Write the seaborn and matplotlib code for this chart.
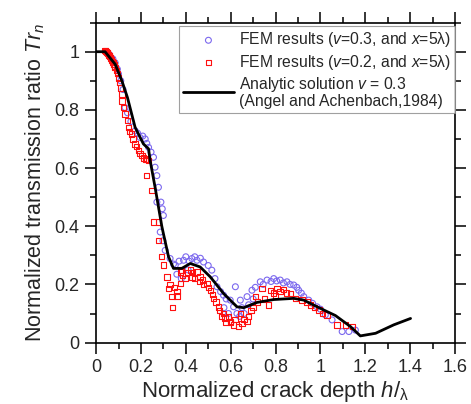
import numpy as np
import pandas as pd
import matplotlib
matplotlib.use("Agg")
import matplotlib.pyplot as plt
import seaborn as sns
from matplotlib.ticker import MultipleLocator

# ---------------- data ----------------
blue_x = [0.06, 0.075, 0.085, 0.095, 0.10, 0.11, 0.12, 0.129, 0.14, 0.155, 0.174, 0.185,
          0.196, 0.208, 0.219, 0.226, 0.234, 0.245, 0.256, 0.263, 0.271, 0.278, 0.271, 0.289,
          0.295, 0.30, 0.286, 0.298, 0.308, 0.33, 0.345, 0.353, 0.37, 0.39, 0.40, 0.415,
          0.427, 0.44, 0.45, 0.465, 0.479, 0.50, 0.516, 0.53, 0.539, 0.555, 0.568, 0.58,
          0.598, 0.613, 0.628, 0.621, 0.643, 0.65, 0.673, 0.695, 0.71, 0.732, 0.745, 0.762,
          0.78, 0.792, 0.805, 0.821, 0.835, 0.851, 0.865, 0.881, 0.895, 0.903, 0.915, 0.926,
          0.948, 0.965, 0.985, 1.00, 1.022, 1.052, 1.097, 1.127, 1.156,
          0.36, 0.38, 0.41, 0.57, 0.59, 0.64, 0.66, 0.68, 0.70]
blue_y = [0.99, 0.975, 0.962, 0.94, 0.923, 0.90, 0.87, 0.808, 0.79, 0.76, 0.728, 0.72,
          0.705, 0.71, 0.70, 0.685, 0.671, 0.655, 0.637, 0.603, 0.574, 0.534, 0.483, 0.483,
          0.46, 0.437, 0.38, 0.35, 0.317, 0.289, 0.27, 0.266, 0.28, 0.283, 0.295, 0.28,
          0.289, 0.295, 0.283, 0.29, 0.277, 0.265, 0.249, 0.22, 0.192, 0.175, 0.163, 0.15,
          0.146, 0.123, 0.10, 0.192, 0.146, 0.12, 0.158, 0.18, 0.19, 0.209, 0.20, 0.215,
          0.21, 0.22, 0.212, 0.215, 0.205, 0.209, 0.20, 0.198, 0.19, 0.18, 0.17, 0.158,
          0.146, 0.135, 0.123, 0.115, 0.095, 0.078, 0.038, 0.038, 0.043,
          0.235, 0.22, 0.25, 0.12, 0.10, 0.09, 0.10, 0.13, 0.15]

red_x = [0.040, 0.045, 0.05, 0.055, 0.06, 0.065, 0.07, 0.075, 0.08, 0.085, 0.09, 0.095,
         0.10, 0.105, 0.11, 0.115, 0.115, 0.122, 0.129, 0.14, 0.144, 0.15, 0.159, 0.165,
         0.174, 0.18, 0.189, 0.195, 0.204, 0.212, 0.22, 0.226, 0.235, 0.226, 0.249, 0.256,
         0.278, 0.278, 0.293, 0.30, 0.316, 0.323, 0.338, 0.341, 0.36, 0.375, 0.375, 0.385,
         0.397, 0.41, 0.427, 0.44, 0.45, 0.464, 0.475, 0.494, 0.509, 0.524, 0.535, 0.546,
         0.568, 0.575, 0.59, 0.60, 0.613, 0.635, 0.598, 0.643, 0.66, 0.673, 0.69, 0.71,
         0.74, 0.769, 0.777, 0.79, 0.807, 0.82, 0.836, 0.85, 0.866, 0.888, 0.918, 0.94,
         0.955, 0.975, 0.993, 1.01, 1.03, 1.074, 1.112, 1.142,
         0.33, 0.35, 0.36, 0.38, 0.42, 0.43, 0.46, 0.48, 0.50, 0.52, 0.55, 0.56, 0.58,
         0.62, 0.65, 0.68, 0.70, 0.72, 0.75, 0.80,
         0.043, 0.048, 0.052, 0.058, 0.063, 0.068, 0.072, 0.078, 0.083]
red_y = [1.005, 1.0, 0.995, 0.99, 0.985, 0.978, 0.97, 0.962, 0.955, 0.945, 0.935, 0.925,
         0.91, 0.895, 0.875, 0.855, 0.831, 0.808, 0.786, 0.763, 0.74, 0.725, 0.717, 0.70,
         0.683, 0.675, 0.66, 0.65, 0.643, 0.635, 0.63, 0.631, 0.625, 0.574, 0.523, 0.414,
         0.414, 0.352, 0.295, 0.267, 0.226, 0.186, 0.158, 0.121, 0.175, 0.203, 0.243, 0.23,
         0.22, 0.24, 0.226, 0.22, 0.243, 0.226, 0.215, 0.203, 0.18, 0.152, 0.14, 0.123,
         0.10, 0.085, 0.089, 0.07, 0.061, 0.055, 0.072, 0.10, 0.08, 0.072, 0.11, 0.158,
         0.186, 0.129, 0.18, 0.17, 0.186, 0.175, 0.183, 0.17, 0.169, 0.152, 0.146, 0.14,
         0.129, 0.12, 0.112, 0.10, 0.095, 0.061, 0.061, 0.055,
         0.20, 0.19, 0.16, 0.25, 0.25, 0.24, 0.21, 0.20, 0.19, 0.165, 0.11, 0.09, 0.07,
         0.08, 0.065, 0.09, 0.12, 0.14, 0.15, 0.16,
         1.003, 0.998, 0.993, 0.987, 0.981, 0.974, 0.966, 0.958, 0.95]

line_x = [0, 0.04, 0.085, 0.115, 0.14, 0.174, 0.211, 0.234, 0.241, 0.263, 0.293, 0.30,
          0.323, 0.345, 0.382, 0.42, 0.464, 0.509, 0.568, 0.628, 0.658, 0.717, 0.792, 0.881,
          0.926, 0.97, 1.015, 1.067, 1.134, 1.178, 1.246, 1.327, 1.402]
line_y = [1, 1, 0.957, 0.90, 0.842, 0.74, 0.683, 0.666, 0.626, 0.534, 0.40, 0.375,
          0.295, 0.255, 0.255, 0.272, 0.26, 0.226, 0.169, 0.123, 0.12, 0.138, 0.148, 0.152,
          0.146, 0.129, 0.112, 0.093, 0.055, 0.023, 0.032, 0.061, 0.083]

lab_blue = r"FEM results ($v$=0.3, and $x$=5λ)"
lab_red = r"FEM results ($v$=0.2, and $x$=5λ)"
lab_line = "Analytic solution $v$ = 0.3\n(Angel and Achenbach,1984)"

# ---------------- style ----------------
sns.set_style("ticks")
plt.rcParams["font.family"] = ["Liberation Sans", "DejaVu Sans"]
plt.rcParams["mathtext.fontset"] = "custom"
plt.rcParams["mathtext.rm"] = "Liberation Sans"
plt.rcParams["mathtext.it"] = "Liberation Sans:italic"
plt.rcParams["mathtext.bf"] = "Liberation Sans:bold"

fig = plt.figure(figsize=(4.71, 4.04), dpi=100)
ax = fig.add_axes([0.204, 0.152, 0.762, 0.792])

df_b = pd.DataFrame({"x": blue_x, "y": blue_y})
df_r = pd.DataFrame({"x": red_x, "y": red_y})
df_l = pd.DataFrame({"x": line_x, "y": line_y})

sns.scatterplot(data=df_b, x="x", y="y", ax=ax, marker="o", s=18,
                facecolor="none", edgecolor="#7b68ee", linewidth=0.8, label=lab_blue, zorder=3)
sns.scatterplot(data=df_r, x="x", y="y", ax=ax, marker="s", s=15,
                facecolor="none", edgecolor="#ff1010", linewidth=0.8, label=lab_red, zorder=3)
sns.lineplot(data=df_l, x="x", y="y", ax=ax, sort=False, color="black", linewidth=2,
             label=lab_line, zorder=4)

ax.set_xlim(0, 1.6)
ax.set_ylim(0, 1.1)
ax.xaxis.set_minor_locator(MultipleLocator(0.1))
ax.yaxis.set_minor_locator(MultipleLocator(0.1))
ax.set_xticks([0, 0.2, 0.4, 0.6, 0.8, 1.0, 1.2, 1.4, 1.6])
ax.set_xticklabels(["0", "0.2", "0.4", "0.6", "0.8", "1", "1.2", "1.4", "1.6"])
ax.set_yticks([0, 0.2, 0.4, 0.6, 0.8, 1.0])
ax.set_yticklabels(["0", "0.2", "0.4", "0.6", "0.8", "1"])

ax.tick_params(which="both", direction="out", top=True, right=True,
               labeltop=False, labelright=False, width=1.1, color="black")
ax.tick_params(which="major", length=8, labelsize=13, pad=4)
ax.tick_params(which="minor", length=4.5)
for sp in ax.spines.values():
    sp.set_visible(True)
    sp.set_linewidth(1.2)
    sp.set_color("black")

ax.set_xlabel(r"Normalized crack depth $h/_{\mathrm{λ}}$", fontsize=16, labelpad=2)
ax.set_ylabel(r"Normalized transmission ratio $Tr_n$", fontsize=15.5, labelpad=5)

leg = ax.legend(loc="upper right", bbox_to_anchor=(1.0, 0.988), borderaxespad=0,
                fontsize=11.3, frameon=True, fancybox=False, handlelength=3.3,
                handletextpad=0.3, labelspacing=0.2, borderpad=0.25)
leg.get_frame().set_edgecolor("#888888")
leg.get_frame().set_linewidth(0.8)
for t in leg.get_texts():
    t.set_linespacing(1.0)

fig.savefig("out.png", dpi=100)
